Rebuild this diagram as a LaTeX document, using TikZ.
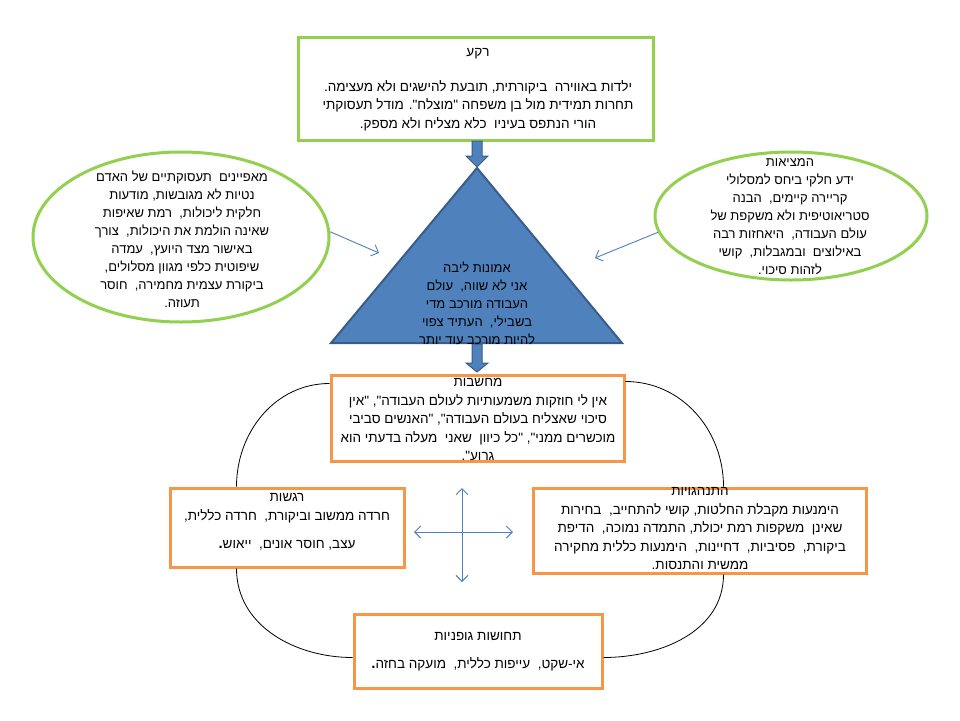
\documentclass[tikz,border=0pt]{standalone}
\usepackage{fontspec}
\newfontfamily\heb[Script=Hebrew]{Liberation Sans}
\TeXXeTstate=1
\usetikzlibrary{arrows.meta,shapes.geometric,calc}
\definecolor{grn}{HTML}{92D050}
\definecolor{org}{HTML}{F79646}
\definecolor{blu}{HTML}{4F81BD}
\definecolor{dblu}{HTML}{385D8A}
\newcommand\HR[1]{\beginR #1\endR}
\newcommand\bdot{{\bfseries\fontsize{15}{18}\selectfont .}}
\begin{document}
\begin{tikzpicture}[x=1pt,y=-1pt,
  gbox/.style={draw=grn,line width=3pt,rectangle,inner sep=0pt},
  obox/.style={draw=org,line width=3pt,rectangle,inner sep=0pt},
  gell/.style={draw=grn,line width=3pt,ellipse,inner sep=0pt},
  htxt/.style={font=\heb\fontsize{13}{18}\selectfont,align=center,inner sep=0pt,text=black},
  btxt/.style={font=\heb\fontsize{13.5}{18.5}\selectfont,align=center,inner sep=0pt,text=black},
  blockar/.style={fill=blu,draw=dblu,line width=1pt},
  tristyle/.style={fill=blu,draw=dblu,line width=2pt,line join=miter},
  thinar/.style={draw=blu,line width=0.9pt,-{Straight Barb[length=6pt,width=12pt]}},
  crossar/.style={draw=blu,line width=0.9pt,{Straight Barb[length=6pt,width=12pt]}-{Straight Barb[length=6pt,width=12pt]}},
  arcline/.style={draw=black,line width=0.8pt}]
\useasboundingbox (0,0) rectangle (960,720);
\fill[white] (0,0) rectangle (960,720);

% boxes
\node[gbox,minimum width=355pt,minimum height=103pt] (bg) at (475.5,88.5) {};
\node[obox,minimum width=293pt,minimum height=86pt] (think) at (477.5,418) {};
\node[obox,minimum width=234pt,minimum height=79pt] (feel) at (287,527.5) {};
\node[obox,minimum width=333pt,minimum height=85pt] (behav) at (699.5,530.5) {};
\node[obox,minimum width=248pt,minimum height=74pt] (body) at (478,651) {};

% ellipses
\node[gell,minimum width=296pt,minimum height=170pt] (lell) at (181,237) {};
\node[gell,minimum width=272pt,minimum height=128pt] (rell) at (791,216) {};

% triangle
\coordinate (tA) at (477,168);
\coordinate (tL) at (331,343);
\coordinate (tR) at (622,343);
\coordinate (tB) at (477,343);
\draw[tristyle] (tA) -- (tR) -- (tL) -- cycle;

% block arrows
\filldraw[blockar,shift={(tA)}] (-5,-27) -- (5,-27) -- (5,-12) -- (11,-12) -- (0,-1) -- (-11,-12) -- (-5,-12) -- cycle;
\filldraw[blockar,shift={(tB)}] (-5,1) -- (5,1) -- (5,20) -- (11,20) -- (0,29) -- (-11,20) -- (-5,20) -- cycle;

% thin arrows
\coordinate (la) at (379,253);
\coordinate (ra) at (595,258);
\draw[thinar] (lell.2) -- (la);
\draw[thinar] (rell.187) -- (ra);

% cross
\coordinate (ctop) at (462,488);
\coordinate (cbot) at (462,582);
\coordinate (cleft) at (414,532);
\coordinate (cright) at (513,532);
\draw[crossar] (ctop) -- (cbot);
\draw[crossar] (cleft) -- (cright);

% arcs
\draw[arcline] ($(think.north west)+(0,10)$) to[out=180,in=90] ($(feel.north west)+(68,0)$);
\draw[arcline] ($(think.north east)+(0,8)$) to[out=0,in=90] ($(behav.north west)+(192,0)$);
\draw[arcline] ($(feel.south west)+(68,0)$) to[out=-90,in=180] ($(body.north west)+(0,45)$);
\draw[arcline] ($(behav.south west)+(192,0)$) to[out=-90,in=0] ($(body.north east)+(0,45)$);

% texts
\node[btxt] (bgt) at (478,89.5) {\HR{רקע}\\[16pt]
\HR{ילדות באווירה\ \ ביקורתית, תובעת להישגים ולא מעצימה.}\\
\HR{תחרות תמידית מול בן משפחה "מוצלח". מודל תעסוקתי}\\
\HR{הורי הנתפס בעיניו\ \ כלא מצליח ולא מספק.}};

\node[htxt] (trit) at (477,303) {\HR{אמונות ליבה}\\
\HR{אני לא שווה,\ \ עולם}\\
\HR{העבודה מורכב מדי}\\
\HR{בשבילי,\ \ העתיד צפוי}\\
\HR{להיות מורכב עוד יותר}};

\node[htxt] (lellt) at (182,239) {\HR{מאפיינים\ \ תעסוקתיים של האדם}\\
\HR{נטיות לא מגובשות, מודעות}\\
\HR{חלקית ליכולות,\ \ רמת שאיפות}\\
\HR{שאינה הולמת את היכולות,\ \ צורך}\\
\HR{באישור מצד היועץ,\ \ עמדה}\\
\HR{שיפוטית כלפי מגוון מסלולים,}\\
\HR{ביקורת עצמית מחמירה,\ \ חוסר}\\
\HR{תעוזה.}};

\node[htxt] (rellt) at (790,217) {\HR{המציאות}\\
\HR{ידע חלקי ביחס למסלולי}\\
\HR{קריירה קיימים,\ \ הבנה}\\
\HR{סטריאוטיפית ולא משקפת של}\\
\HR{עולם העבודה,\ \ היאחזות רבה}\\
\HR{באילוצים\ \ ובמגבלות,\ \ קושי}\\
\HR{לזהות סיכוי.}};

\node[btxt] (thinkt) at (478,419.5) {\HR{מחשבות}\\
\HR{אין לי חוזקות משמעותיות לעולם העבודה", "אין}\\
\HR{סיכוי שאצליח בעולם העבודה", "האנשים סביבי}\\
\HR{מוכשרים ממני", "כל כיוון\ \ שאני\ \ מעלה בדעתי הוא}\\
\HR{גרוע".}};

\node[btxt] (feelt) at (287,522) {\HR{רגשות}\\
\HR{חרדה ממשוב וביקורת,\ \ חרדה כללית,}\\[10pt]
\HR{עצב, חוסר אונים,\ \ ייאוש\bdot}};

\node[btxt] (behavt) at (700,529) {\HR{התנהגויות}\\
\HR{הימנעות מקבלת החלטות, קושי להתחייב,\ \ בחירות}\\
\HR{שאינן\ \ משקפות רמת יכולת, התמדה נמוכה,\ \ הדיפת}\\
\HR{ביקורת,\ \ פסיביות,\ \ דחיינות,\ \ הימנעות כללית מחקירה}\\
\HR{ממשית והתנסות.}};

\node[btxt] (bodyt) at (478,651.5) {\HR{תחושות גופניות}\\[10pt]
\HR{אי-שקט,\ \ עייפות כללית,\ \ מועקה בחזה\bdot}};
\end{tikzpicture}
\end{document}
